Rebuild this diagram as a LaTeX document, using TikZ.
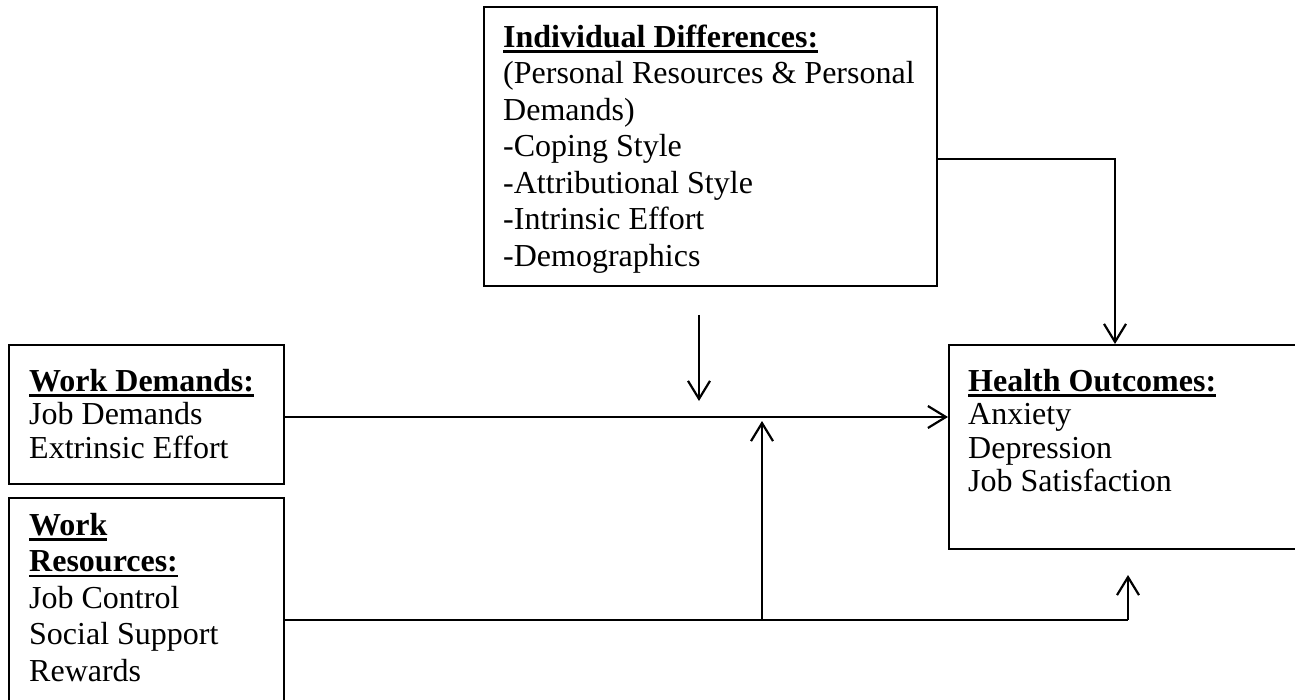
\documentclass[tikz,border=0pt]{standalone}
\usepackage{fontspec}
\setmainfont{Liberation Serif}
\usetikzlibrary{arrows.meta}
\newcommand\myul[1]{\setbox0\hbox{#1}\rlap{\rule[-5.5pt]{\wd0}{2.4pt}}\box0}
\newcommand\firststrut{\rule{0pt}{24pt}}
\begin{document}
\begin{tikzpicture}[x=1pt,y=-1pt,
  box/.style={draw, line width=1.6pt, anchor=north west, inner sep=0pt},
  txt/.style={anchor=north west, inner sep=0pt, align=left},
  wide/.style={font=\fontsize{32}{36.5}\selectfont},
  tight/.style={font=\fontsize{32}{33.5}\selectfont},
  conn/.style={line width=2.2pt},
  arr/.style={line width=2.2pt, -{Straight Barb[length=18pt,width=22pt]}}]
\useasboundingbox (0,0) rectangle (1295,700);
\clip (0,0) rectangle (1295,700);
% boxes
\node[box, minimum width=453pt, minimum height=279pt] (id) at (483,6) {};
\node[box, minimum width=275pt, minimum height=139pt] (wd) at (8,344) {};
\node[box, minimum width=275pt, minimum height=215pt] (wr) at (8,497) {};
\node[box, minimum width=360pt, minimum height=204pt] (ho) at (948,344) {};
% texts
\node[txt, wide] (idt) at (503,23) {\firststrut\myul{\textbf{Individual Differences:}}\\
(Personal Resources \& Personal\\
Demands)\\
-Coping Style\\
-Attributional Style\\
-Intrinsic Effort\\
-Demographics};
\node[txt, tight] (wdt) at (29,367) {\firststrut\myul{\textbf{Work Demands:}}\\
Job Demands\\
Extrinsic Effort};
\node[txt, wide] (wrt) at (29,511) {\firststrut\myul{\textbf{Work}}\\
\myul{\textbf{Resources:}}\\
Job Control\\
Social Support\\
Rewards};
\node[txt, tight] (hot) at (968,367) {\firststrut\myul{\textbf{Health Outcomes:}}\\
Anxiety\\
Depression\\
Job Satisfaction};
% connector points
\coordinate (wdout) at ([yshift=-73pt]wd.north east);
\coordinate (wrout) at ([yshift=-123pt]wr.north east);
\coordinate (idout) at ([yshift=-153pt]id.north east);
\coordinate (hotop) at ([xshift=167pt]ho.north west);
\coordinate (d1) at (699,315);
\coordinate (d2) at (699,401);
\coordinate (branch) at (762,620);
\coordinate (up1) at (762,421);
\coordinate (corner) at (1128,620);
\coordinate (up2) at (1128,575);
% connectors
\draw[arr] (wdout) -- (wdout -| ho.west);
\draw[arr] (d1) -- (d2);
\draw[conn] (wrout) -- (corner);
\draw[arr] (corner) -- (up2);
\draw[arr] (branch) -- (up1);
\draw[arr] (idout) -| (hotop);
\end{tikzpicture}
\end{document}
